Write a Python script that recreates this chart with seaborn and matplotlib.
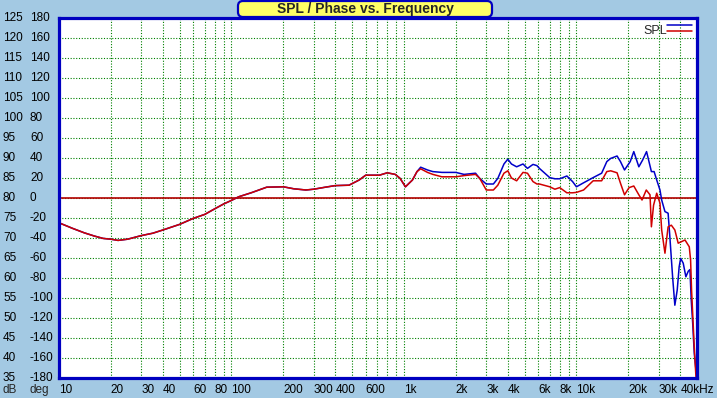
"""SPL / Phase vs. Frequency plot of a two channel measurement."""

import matplotlib

matplotlib.use("Agg")
import matplotlib.pyplot as plt
import pandas as pd
import seaborn as sns
from matplotlib.lines import Line2D
from matplotlib.patches import FancyBboxPatch
from matplotlib.transforms import blended_transform_factory

# low / mid band, both channels overlap here
freq_common = [10, 12, 14, 16, 18, 20, 22, 25, 30, 35, 40, 50, 60, 70, 80, 90,
               100, 110, 130, 160, 200, 230, 270, 300, 350, 400, 480, 550, 600,
               720, 800, 890, 950, 1020, 1120, 1190]
spl_common = [73.8, 72.4, 71.3, 70.5, 69.9, 69.7, 69.4, 69.7, 70.6, 71.2, 72.0,
              73.4, 74.9, 75.9, 77.3, 78.5, 79.4, 80.3, 81.3, 82.7, 82.8, 82.3,
              82.0, 82.2, 82.7, 83.1, 83.2, 84.5, 85.7, 85.7, 86.3, 85.9, 84.9,
              82.8, 84.5, 86.6]

# upper band, blue channel
freq_blue = [1250, 1370, 1470, 1660, 2000, 2230, 2600, 2750, 3000, 3300, 3500,
             3800, 4000, 4200, 4500, 4900, 5200, 5600, 5900, 6100, 7000, 7500,
             8000, 8800, 9500, 10000, 11000, 12500, 14000, 15000, 15800, 17200,
             18000, 19000, 20500, 21500, 23000, 24200, 25500, 27200, 28200,
             29200, 30500, 31200, 32600, 34000, 34800, 36100, 37200, 38400,
             39400, 40200, 41600, 43100, 44500, 45500, 46300, 47200, 48200,
             49300, 50000]
spl_blue = [87.7, 87.0, 86.6, 86.4, 86.4, 85.9, 86.2, 84.9, 83.5, 83.5, 84.9,
            88.5, 89.7, 88.5, 87.8, 88.5, 87.4, 88.4, 88.1, 87.4, 85.1, 84.8,
            84.8, 85.5, 84.1, 82.8, 83.8, 85.1, 86.2, 89.1, 89.9, 90.5, 89.1,
            87.0, 89.1, 91.6, 87.8, 89.5, 91.6, 86.6, 86.6, 84.5, 82.0, 79.5,
            76.6, 76.2, 70.3, 60.3, 53.2, 57.0, 62.8, 64.9, 63.7, 60.3, 61.7,
            62.1, 54.5, 48.7, 41.2, 37.0, 36.0]

# upper band, red channel
freq_red = [1250, 1370, 1470, 1660, 2000, 2230, 2600, 2750, 3000, 3300, 3500,
            3800, 4000, 4200, 4500, 4900, 5200, 5600, 5900, 6100, 7000, 7500,
            8000, 8800, 9500, 10000, 11000, 12500, 14000, 15000, 15800, 17200,
            18000, 19000, 20200, 21500, 23000, 24000, 25400, 26700, 27200,
            28000, 29200, 30500, 31200, 32600, 34000, 35500, 37200, 38900,
            42600, 45100, 45900, 46500, 48200, 49300]
spl_red = [87.3, 86.4, 85.9, 85.3, 85.3, 85.6, 85.9, 84.9, 82.0, 82.0, 83.2,
           86.2, 86.8, 85.0, 84.3, 86.4, 86.2, 84.1, 83.5, 83.5, 82.8, 82.2,
           82.6, 81.3, 81.3, 81.4, 82.0, 84.3, 84.3, 86.6, 86.8, 86.3, 83.7,
           80.8, 82.6, 83.0, 80.8, 79.5, 82.0, 80.8, 72.8, 78.2, 81.2, 78.7,
           72.0, 66.2, 72.8, 73.2, 72.0, 68.7, 69.5, 67.8, 64.5, 57.0, 42.8,
           35.3]

db_ticks = list(range(35, 130, 5))
deg_ticks = list(range(-180, 200, 20))
grid_freqs = [10, 20, 30, 40, 50, 60, 70, 80, 90, 100, 200, 300, 400, 500, 600,
              700, 800, 900, 1000, 2000, 3000, 4000, 5000, 6000, 7000, 8000,
              9000, 10000, 20000, 30000, 40000]
x_label_freqs = [10, 20, 30, 40, 60, 80, 100, 200, 300, 400, 600, 1000,
                 2000, 3000, 4000, 6000, 8000, 10000, 20000, 30000, 40000]
x_labels = ["10", "20", "30", "40", "60", "80", "100", "200", "300", "400",
            "600", "1k", "2k", "3k", "4k", "6k", "8k", "10k", "20k",
            "30k", "40kHz"]

BG = "#A3C9E3"
BLUE = "#0000C8"
RED = "#D00000"
GRID = "#008000"

df = pd.concat([
    pd.DataFrame({"freq": freq_common + freq_blue,
                  "spl": spl_common + spl_blue, "channel": "blue"}),
    pd.DataFrame({"freq": freq_common + freq_red,
                  "spl": spl_common + spl_red, "channel": "red"}),
], ignore_index=True)

sns.set_theme(style="white")
plt.rcParams["font.family"] = ["Liberation Sans", "DejaVu Sans"]

W, H = 717, 398
fig = plt.figure(figsize=(W / 100, H / 100), dpi=100, facecolor=BG)
ax = fig.add_axes([59 / W, 20 / H, 638 / W, 360 / H])
ax.set_facecolor("white")
ax.set_xscale("log")
ax.set_xlim(10, 50000)
ax.set_ylim(35, 125)
ax.set_xticks(grid_freqs)
ax.set_xticks([], minor=True)
ax.set_yticks(db_ticks)
ax.tick_params(length=0, labelbottom=False, labelleft=False)
ax.grid(True, color=GRID, linestyle=(0, (1, 1.5)), linewidth=0.8)
ax.axhline(80, color="#B40000", lw=1.2, zorder=2)

sns.lineplot(data=df, x="freq", y="spl", hue="channel",
             palette={"blue": BLUE, "red": RED}, estimator=None,
             legend=False, lw=1.1, ax=ax, zorder=3)
ax.set_xlabel("")
ax.set_ylabel("")
for s in ax.spines.values():
    s.set_color("#0000C0")
    s.set_linewidth(2.3)
    s.set_zorder(4)

# phase scale shares the left side
ax_deg = ax.twinx()
ax_deg.set_ylim(-180, 180)
ax_deg.axis("off")

ty_db = blended_transform_factory(fig.transFigure, ax.transData)
ty_deg = blended_transform_factory(fig.transFigure, ax_deg.transData)
for v in db_ticks:
    ax.text(3 / W, v, str(v), transform=ty_db, ha="left", va="center",
            fontsize=8.5, color="black")
for v in deg_ticks:
    ax_deg.text(30 / W, v, str(v), transform=ty_deg, ha="left", va="center",
                fontsize=8.5, color="black")

tx = blended_transform_factory(ax.transData, fig.transFigure)
for f, lab in zip(x_label_freqs, x_labels):
    ax.text(f, 8 / H, lab, transform=tx, ha="left", va="center",
            fontsize=8.5, color="black")
fig.text(3 / W, 8 / H, "dB", ha="left", va="center", fontsize=8.5)
fig.text(30 / W, 8 / H, "deg", ha="left", va="center", fontsize=8.5)

# title box
box = FancyBboxPatch((2.38, 3.81), 2.54, 0.16,
                     boxstyle="round,pad=0,rounding_size=0.05",
                     transform=fig.dpi_scale_trans, facecolor="#FFFF66",
                     edgecolor="#0000C0", linewidth=1.6, zorder=5)
fig.patches.append(box)
fig.text(365 / W, (H - 9) / H, "SPL / Phase vs. Frequency", ha="center",
         va="center", fontsize=10, fontweight="bold", zorder=6)

# legend
fig.text(643 / W, (H - 31) / H, "SPL", ha="left", va="center", fontsize=9)
fig.add_artist(Line2D([667 / W, 692 / W], [(H - 25) / H] * 2, color=BLUE,
                      lw=1.1, transform=fig.transFigure))
fig.add_artist(Line2D([667 / W, 692 / W], [(H - 31) / H] * 2, color=RED,
                      lw=1.1, transform=fig.transFigure))

fig.savefig("out.png", dpi=100, facecolor=BG)
